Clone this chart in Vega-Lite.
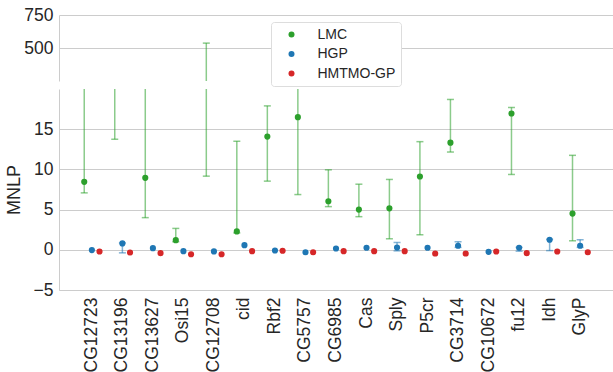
{
  "$schema": "https://vega.github.io/schema/vega-lite/v6.json",
  "padding": {"left": 5, "top": 6, "right": 0, "bottom": 0},
  "background": "white",
  "config": {
    "view": {"stroke": null},
    "font": "Liberation Sans",
    "axis": {
      "labelFont": "Liberation Sans", "labelFontSize": 17.5, "labelColor": "#262626",
      "titleFont": "Liberation Sans", "titleFontSize": 18, "titleColor": "#262626", "titleFontWeight": "normal",
      "ticks": false, "tickSize": 0, "domainColor": "#cccccc", "gridColor": "#cccccc", "gridWidth": 1, "domainWidth": 1
    }
  },
  "datasets": {
    "d": [
      {"gene": "CG12723", "model": "LMC", "mnlp": 8.45, "lo": 7.08, "hi": 60},
      {"gene": "CG13196", "model": "LMC", "mnlp": 45, "lo": 13.75, "hi": 120},
      {"gene": "CG13627", "model": "LMC", "mnlp": 8.95, "lo": 4.0, "hi": 55},
      {"gene": "Osi15", "model": "LMC", "mnlp": 1.2, "lo": 1.0, "hi": 2.66},
      {"gene": "CG12708", "model": "LMC", "mnlp": 180, "lo": 9.16, "hi": 537},
      {"gene": "cid", "model": "LMC", "mnlp": 2.29, "lo": 2.1, "hi": 13.5},
      {"gene": "Rbf2", "model": "LMC", "mnlp": 14.08, "lo": 8.54, "hi": 17.9},
      {"gene": "CG5757", "model": "LMC", "mnlp": 16.5, "lo": 6.87, "hi": 40},
      {"gene": "CG6985", "model": "LMC", "mnlp": 6.04, "lo": 5.37, "hi": 9.95},
      {"gene": "Cas", "model": "LMC", "mnlp": 5.0, "lo": 4.12, "hi": 8.16},
      {"gene": "Sply", "model": "LMC", "mnlp": 5.16, "lo": 1.37, "hi": 8.75},
      {"gene": "P5cr", "model": "LMC", "mnlp": 9.12, "lo": 1.87, "hi": 13.45},
      {"gene": "CG3714", "model": "LMC", "mnlp": 13.33, "lo": 12.16, "hi": 18.7},
      {"gene": "fu12", "model": "LMC", "mnlp": 16.95, "lo": 9.37, "hi": 17.7},
      {"gene": "GlyP", "model": "LMC", "mnlp": 4.5, "lo": 1.12, "hi": 11.75},
      {"gene": "CG12723", "model": "HGP", "mnlp": -0.04},
      {"gene": "CG13196", "model": "HGP", "mnlp": 0.79, "lo": -0.38, "hi": 0.85},
      {"gene": "CG13627", "model": "HGP", "mnlp": 0.2},
      {"gene": "Osi15", "model": "HGP", "mnlp": -0.17},
      {"gene": "CG12708", "model": "HGP", "mnlp": -0.2},
      {"gene": "cid", "model": "HGP", "mnlp": 0.58},
      {"gene": "Rbf2", "model": "HGP", "mnlp": -0.09},
      {"gene": "CG5757", "model": "HGP", "mnlp": -0.3},
      {"gene": "CG6985", "model": "HGP", "mnlp": 0.16},
      {"gene": "Cas", "model": "HGP", "mnlp": 0.25},
      {"gene": "Sply", "model": "HGP", "mnlp": 0.29, "lo": -0.13, "hi": 0.91},
      {"gene": "P5cr", "model": "HGP", "mnlp": 0.25},
      {"gene": "CG3714", "model": "HGP", "mnlp": 0.5, "lo": 0.3, "hi": 1.0},
      {"gene": "CG10672", "model": "HGP", "mnlp": -0.25},
      {"gene": "fu12", "model": "HGP", "mnlp": 0.25, "lo": -0.17, "hi": 0.3},
      {"gene": "Idh", "model": "HGP", "mnlp": 1.25, "lo": -0.1, "hi": 1.3},
      {"gene": "GlyP", "model": "HGP", "mnlp": 0.5, "lo": 0.3, "hi": 1.25},
      {"gene": "CG12723", "model": "HMTMO-GP", "mnlp": -0.21},
      {"gene": "CG13196", "model": "HMTMO-GP", "mnlp": -0.34},
      {"gene": "CG13627", "model": "HMTMO-GP", "mnlp": -0.42},
      {"gene": "Osi15", "model": "HMTMO-GP", "mnlp": -0.55},
      {"gene": "CG12708", "model": "HMTMO-GP", "mnlp": -0.55},
      {"gene": "cid", "model": "HMTMO-GP", "mnlp": -0.17},
      {"gene": "Rbf2", "model": "HMTMO-GP", "mnlp": -0.12},
      {"gene": "CG5757", "model": "HMTMO-GP", "mnlp": -0.3},
      {"gene": "CG6985", "model": "HMTMO-GP", "mnlp": -0.17},
      {"gene": "Cas", "model": "HMTMO-GP", "mnlp": -0.17},
      {"gene": "Sply", "model": "HMTMO-GP", "mnlp": -0.17},
      {"gene": "P5cr", "model": "HMTMO-GP", "mnlp": -0.46},
      {"gene": "CG3714", "model": "HMTMO-GP", "mnlp": -0.46},
      {"gene": "CG10672", "model": "HMTMO-GP", "mnlp": -0.21},
      {"gene": "fu12", "model": "HMTMO-GP", "mnlp": -0.42},
      {"gene": "Idh", "model": "HMTMO-GP", "mnlp": -0.21},
      {"gene": "GlyP", "model": "HMTMO-GP", "mnlp": -0.3}
    ]
  },
  "spacing": 8,
  "resolve": {"scale": {"y": "independent", "color": "shared", "x": "shared", "xOffset": "shared"}, "legend": {"color": "shared"}},
  "vconcat": [
    {
      "width": 554, "height": 66,
      "data": {"name": "d"},
      "encoding": {
        "x": {"field": "gene", "type": "nominal",
          "sort": ["CG12723","CG13196","CG13627","Osi15","CG12708","cid","Rbf2","CG5757","CG6985","Cas","Sply","P5cr","CG3714","CG10672","fu12","Idh","GlyP"],
          "scale": {"type": "band", "paddingInner": 0, "paddingOuter": 0.577}, "axis": null},
        "xOffset": {"field": "model", "type": "nominal", "sort": ["LMC","HGP","HMTMO-GP"],
          "scale": {"type": "point", "range": [7.63, 22.9], "padding": 0}},
        "color": {"field": "model", "type": "nominal", "sort": ["LMC","HGP","HMTMO-GP"],
          "scale": {"domain": ["LMC","HGP","HMTMO-GP"], "range": ["#2ca02c","#1f77b4","#d62728"]},
          "legend": {"orient": "none", "legendX": 212, "legendY": 7, "title": null, "symbolType": "circle", "symbolSize": 36, "symbolOpacity": 1,
            "labelFont": "Liberation Sans", "labelFontSize": 14, "labelColor": "#262626",
            "fillColor": "white", "strokeColor": "#dddddd", "cornerRadius": 3, "padding": 5.5,
            "symbolOffset": 8, "labelOffset": 19, "rowPadding": 5.5, "symbolStrokeWidth": 0}}
      },
      "layer": [
        {"transform": [{"filter": "isValid(datum.lo)"}],
         "mark": {"type": "rule", "clip": true, "strokeWidth": 1.5, "opacity": 0.55},
         "encoding": {
           "y": {"field": "lo", "type": "quantitative", "scale": {"domain": [250, 750], "nice": false, "zero": false},
             "axis": {"values": [500, 750], "title": " ", "grid": true, "labelPadding": 6, "minExtent": 34, "maxExtent": 34, "titlePadding": 2}},
           "y2": {"field": "hi"}}},
        {"transform": [{"filter": "isValid(datum.lo)"}],
         "mark": {"type": "tick", "orient": "horizontal", "clip": true, "size": 7, "thickness": 1.5, "opacity": 0.55},
         "encoding": {"y": {"field": "lo", "type": "quantitative"}}},
        {"transform": [{"filter": "isValid(datum.hi)"}],
         "mark": {"type": "tick", "orient": "horizontal", "clip": true, "size": 7, "thickness": 1.5, "opacity": 0.55},
         "encoding": {"y": {"field": "hi", "type": "quantitative"}}},
        {"mark": {"type": "circle", "clip": true, "size": 38, "opacity": 1},
         "encoding": {"y": {"field": "mnlp", "type": "quantitative"}}}
      ]
    },
    {
      "width": 554, "height": 201,
      "data": {"name": "d"},
      "encoding": {
        "x": {"field": "gene", "type": "nominal",
          "sort": ["CG12723","CG13196","CG13627","Osi15","CG12708","cid","Rbf2","CG5757","CG6985","Cas","Sply","P5cr","CG3714","CG10672","fu12","Idh","GlyP"],
          "scale": {"type": "band", "paddingInner": 0, "paddingOuter": 0.577},
          "axis": {"title": null, "labelAngle": -90, "labelPadding": 7, "grid": false, "domain": true, "bandPosition": 0.25}},
        "xOffset": {"field": "model", "type": "nominal", "sort": ["LMC","HGP","HMTMO-GP"],
          "scale": {"type": "point", "range": [7.63, 22.9], "padding": 0}},
        "color": {"field": "model", "type": "nominal", "sort": ["LMC","HGP","HMTMO-GP"],
          "scale": {"domain": ["LMC","HGP","HMTMO-GP"], "range": ["#2ca02c","#1f77b4","#d62728"]},
          "legend": {"orient": "none", "legendX": 212, "legendY": 7, "title": null, "symbolType": "circle", "symbolSize": 36, "symbolOpacity": 1,
            "labelFont": "Liberation Sans", "labelFontSize": 14, "labelColor": "#262626",
            "fillColor": "white", "strokeColor": "#dddddd", "cornerRadius": 3, "padding": 5.5,
            "symbolOffset": 8, "labelOffset": 19, "rowPadding": 5.5, "symbolStrokeWidth": 0}}
      },
      "layer": [
        {"transform": [{"filter": "isValid(datum.lo)"}],
         "mark": {"type": "rule", "clip": true, "strokeWidth": 1.5, "opacity": 0.55},
         "encoding": {
           "y": {"field": "lo", "type": "quantitative", "scale": {"domain": [-5, 20], "nice": false, "zero": false},
             "axis": {"values": [-5, 0, 5, 10, 15], "title": "MNLP", "grid": true, "labelPadding": 6, "minExtent": 34, "maxExtent": 34, "titlePadding": 2}},
           "y2": {"field": "hi"}}},
        {"transform": [{"filter": "isValid(datum.lo)"}],
         "mark": {"type": "tick", "orient": "horizontal", "clip": true, "size": 7, "thickness": 1.5, "opacity": 0.55},
         "encoding": {"y": {"field": "lo", "type": "quantitative"}}},
        {"transform": [{"filter": "isValid(datum.hi)"}],
         "mark": {"type": "tick", "orient": "horizontal", "clip": true, "size": 7, "thickness": 1.5, "opacity": 0.55},
         "encoding": {"y": {"field": "hi", "type": "quantitative"}}},
        {"mark": {"type": "circle", "clip": true, "size": 38, "opacity": 1},
         "encoding": {"y": {"field": "mnlp", "type": "quantitative"}}}
      ]
    }
  ]
}
